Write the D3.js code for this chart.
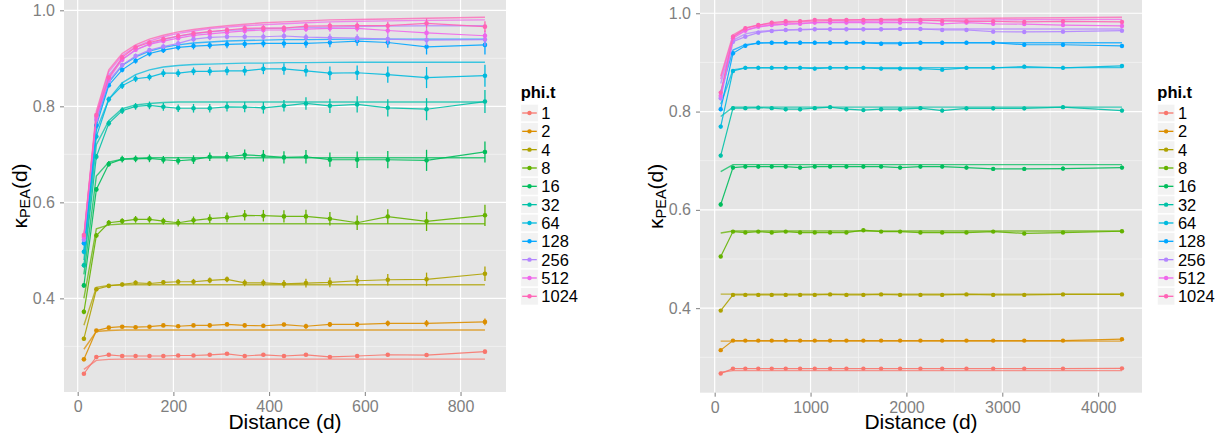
<!DOCTYPE html>
<html>
<head>
<meta charset="utf-8">
<script src="https://cdn.jsdelivr.net/npm/d3@7"></script>
<style>
  body { margin: 0; background: #fff; }
  svg text { font-family: "Liberation Sans", Arial, sans-serif; }
</style>
</head>
<body>
<div id="chart"></div>
<script>
// ---- data ----
const phiLevels = ["1", "2", "4", "8", "16", "32", "64", "128", "256", "512", "1024"];
const phiColors = ["#F8766D", "#DB8E00", "#AEA200", "#64B200", "#00BD5C", "#00C1A7",
                   "#00BADE", "#00A6FF", "#B385FF", "#EF67EB", "#FF63B6"];

const yTicks = [0.4, 0.6, 0.8, 1.0];
const yMinor = [0.3, 0.5, 0.7, 0.9];

// left panel: short distances
const leftDist = [13, 39, 65, 93, 121, 150, 179, 210, 242, 276, 312, 349, 388, 431, 477, 527, 584, 648, 729, 851];
const leftXTicks = [0, 200, 400, 600, 800];
const leftXMinor = [100, 300, 500, 700];

const leftObserved = [
  [0.243, 0.278, 0.2825, 0.280, 0.280, 0.280, 0.280, 0.281, 0.281, 0.2825, 0.2846, 0.280, 0.2825, 0.280, 0.2825, 0.278, 0.280, 0.2826, 0.282, 0.289],
  [0.273, 0.333, 0.339, 0.341, 0.340, 0.341, 0.3437, 0.342, 0.3437, 0.3437, 0.3458, 0.3437, 0.343, 0.3455, 0.342, 0.3458, 0.3458, 0.348, 0.348, 0.351],
  [0.316, 0.419, 0.426, 0.429, 0.4325, 0.431, 0.4335, 0.4346, 0.4346, 0.4375, 0.4396, 0.4325, 0.4325, 0.4304, 0.4319, 0.4333, 0.4367, 0.4388, 0.4396, 0.4513],
  [0.372, 0.531, 0.5575, 0.561, 0.5646, 0.5646, 0.561, 0.5575, 0.5625, 0.566, 0.5687, 0.573, 0.5722, 0.5708, 0.5708, 0.566, 0.5575, 0.5704, 0.5604, 0.573],
  [0.427, 0.627, 0.680, 0.690, 0.6906, 0.6917, 0.6888, 0.6867, 0.689, 0.695, 0.695, 0.699, 0.697, 0.6937, 0.695, 0.689, 0.6888, 0.6888, 0.6875, 0.705],
  [0.469, 0.695, 0.7646, 0.791, 0.800, 0.802, 0.799, 0.796, 0.796, 0.796, 0.799, 0.7985, 0.797, 0.801, 0.806, 0.801, 0.804, 0.797, 0.794, 0.810],
  [0.497, 0.737, 0.8146, 0.843, 0.8575, 0.861, 0.869, 0.869, 0.873, 0.873, 0.874, 0.874, 0.878, 0.878, 0.874, 0.869, 0.870, 0.866, 0.860, 0.8638],
  [0.515, 0.760, 0.844, 0.876, 0.895, 0.910, 0.917, 0.923, 0.9256, 0.927, 0.929, 0.930, 0.931, 0.931, 0.931, 0.933, 0.936, 0.933, 0.924, 0.928],
  [0.522, 0.772, 0.853, 0.886, 0.905, 0.917, 0.9245, 0.931, 0.940, 0.9437, 0.945, 0.945, 0.945, 0.9465, 0.944, 0.943, 0.942, 0.940, 0.938, 0.939],
  [0.528, 0.778, 0.857, 0.897, 0.918, 0.929, 0.936, 0.942, 0.948, 0.951, 0.954, 0.957, 0.959, 0.959, 0.961, 0.9625, 0.9625, 0.958, 0.953, 0.947],
  [0.532, 0.782, 0.860, 0.902, 0.923, 0.933, 0.940, 0.9465, 0.952, 0.9555, 0.959, 0.9625, 0.963, 0.963, 0.967, 0.9677, 0.968, 0.968, 0.973, 0.966]
];

// half-length of the error bars
const leftError = [
  [0.002, 0.002, 0.002, 0.002, 0.002, 0.002, 0.002, 0.002, 0.002, 0.002, 0.002, 0.002, 0.003, 0.003, 0.003, 0.003, 0.003, 0.003, 0.003, 0.004],
  [0.003, 0.003, 0.003, 0.003, 0.003, 0.003, 0.003, 0.003, 0.003, 0.004, 0.004, 0.004, 0.004, 0.004, 0.005, 0.005, 0.005, 0.006, 0.007, 0.007],
  [0.004, 0.004, 0.004, 0.004, 0.005, 0.005, 0.005, 0.005, 0.006, 0.006, 0.006, 0.007, 0.007, 0.008, 0.009, 0.010, 0.011, 0.012, 0.014, 0.015],
  [0.005, 0.005, 0.006, 0.006, 0.007, 0.007, 0.007, 0.008, 0.008, 0.009, 0.010, 0.011, 0.012, 0.013, 0.014, 0.014, 0.015, 0.015, 0.020, 0.022],
  [0.005, 0.005, 0.006, 0.007, 0.007, 0.008, 0.008, 0.008, 0.009, 0.009, 0.010, 0.011, 0.012, 0.013, 0.014, 0.015, 0.017, 0.018, 0.022, 0.022],
  [0.005, 0.006, 0.006, 0.007, 0.007, 0.008, 0.008, 0.008, 0.009, 0.009, 0.010, 0.011, 0.012, 0.012, 0.013, 0.015, 0.017, 0.018, 0.023, 0.024],
  [0.005, 0.006, 0.006, 0.007, 0.007, 0.007, 0.008, 0.008, 0.008, 0.009, 0.009, 0.010, 0.011, 0.012, 0.012, 0.014, 0.015, 0.017, 0.022, 0.023],
  [0.004, 0.005, 0.005, 0.005, 0.006, 0.006, 0.006, 0.006, 0.007, 0.007, 0.008, 0.008, 0.008, 0.009, 0.009, 0.010, 0.010, 0.011, 0.016, 0.020],
  [0.004, 0.004, 0.004, 0.005, 0.005, 0.005, 0.005, 0.005, 0.006, 0.006, 0.006, 0.006, 0.007, 0.007, 0.007, 0.008, 0.008, 0.010, 0.011, 0.013],
  [0.003, 0.004, 0.004, 0.004, 0.004, 0.004, 0.005, 0.005, 0.005, 0.005, 0.005, 0.006, 0.006, 0.006, 0.006, 0.007, 0.007, 0.008, 0.010, 0.011],
  [0.003, 0.004, 0.004, 0.004, 0.004, 0.004, 0.005, 0.005, 0.005, 0.005, 0.005, 0.006, 0.006, 0.006, 0.006, 0.007, 0.007, 0.008, 0.010, 0.011]
];

// expected curves, same distances
const leftTheory = [
  [0.252, 0.271, 0.273, 0.2735, 0.2735, 0.2735, 0.2735, 0.2735, 0.2735, 0.2735, 0.2735, 0.2735, 0.2735, 0.2735, 0.2735, 0.2735, 0.2735, 0.2735, 0.2735, 0.2735],
  [0.294, 0.331, 0.333, 0.334, 0.334, 0.334, 0.334, 0.334, 0.334, 0.334, 0.334, 0.334, 0.334, 0.334, 0.334, 0.334, 0.334, 0.334, 0.334, 0.334],
  [0.344, 0.423, 0.427, 0.428, 0.4284, 0.4284, 0.4284, 0.4284, 0.4284, 0.4284, 0.4284, 0.4284, 0.4284, 0.4284, 0.4284, 0.4284, 0.4284, 0.4284, 0.4284, 0.4284],
  [0.400, 0.545, 0.553, 0.555, 0.5555, 0.5555, 0.5555, 0.5555, 0.5555, 0.5555, 0.5555, 0.5555, 0.5555, 0.5555, 0.5555, 0.5555, 0.5555, 0.5555, 0.5555, 0.5555],
  [0.450, 0.655, 0.684, 0.690, 0.692, 0.693, 0.693, 0.693, 0.693, 0.693, 0.693, 0.693, 0.693, 0.693, 0.693, 0.693, 0.693, 0.693, 0.693, 0.693],
  [0.480, 0.720, 0.770, 0.795, 0.803, 0.806, 0.808, 0.809, 0.809, 0.809, 0.809, 0.809, 0.809, 0.809, 0.809, 0.809, 0.809, 0.809, 0.809, 0.809],
  [0.500, 0.750, 0.815, 0.849, 0.866, 0.876, 0.882, 0.885, 0.887, 0.888, 0.889, 0.890, 0.890, 0.891, 0.891, 0.8915, 0.8917, 0.8917, 0.8917, 0.8917],
  [0.510, 0.770, 0.850, 0.885, 0.903, 0.915, 0.923, 0.928, 0.932, 0.934, 0.936, 0.937, 0.938, 0.939, 0.939, 0.9395, 0.940, 0.940, 0.940, 0.940],
  [0.520, 0.780, 0.865, 0.898, 0.917, 0.930, 0.939, 0.946, 0.951, 0.955, 0.958, 0.960, 0.962, 0.963, 0.964, 0.965, 0.966, 0.967, 0.968, 0.968],
  [0.525, 0.785, 0.872, 0.906, 0.924, 0.936, 0.945, 0.952, 0.957, 0.962, 0.965, 0.968, 0.970, 0.972, 0.974, 0.976, 0.977, 0.978, 0.979, 0.980],
  [0.530, 0.790, 0.876, 0.910, 0.928, 0.940, 0.948, 0.955, 0.960, 0.9645, 0.968, 0.971, 0.974, 0.976, 0.978, 0.980, 0.981, 0.982, 0.9835, 0.9855]
];

// right panel: long distances
const rightDist = [63, 191, 320, 455, 595, 741, 891, 1044, 1204, 1374, 1551, 1736, 1934, 2146, 2373, 2626, 2905, 3229, 3633, 4248];
const rightXTicks = [0, 1000, 2000, 3000, 4000];
const rightXMinor = [500, 1500, 2500, 3500];

const rightObserved = [
  [0.267, 0.277, 0.277, 0.277, 0.277, 0.277, 0.277, 0.277, 0.277, 0.277, 0.277, 0.277, 0.277, 0.277, 0.277, 0.277, 0.277, 0.277, 0.277, 0.2775],
  [0.3146, 0.334, 0.334, 0.334, 0.334, 0.334, 0.334, 0.334, 0.334, 0.334, 0.334, 0.334, 0.334, 0.334, 0.334, 0.334, 0.334, 0.334, 0.334, 0.337],
  [0.395, 0.427, 0.427, 0.427, 0.427, 0.427, 0.427, 0.427, 0.428, 0.427, 0.427, 0.428, 0.427, 0.427, 0.427, 0.428, 0.427, 0.427, 0.428, 0.428],
  [0.505, 0.5558, 0.5538, 0.5558, 0.5538, 0.5558, 0.5538, 0.5538, 0.5538, 0.5538, 0.5586, 0.5558, 0.5558, 0.5538, 0.5538, 0.5538, 0.5558, 0.552, 0.5538, 0.5565],
  [0.6108, 0.686, 0.688, 0.688, 0.688, 0.688, 0.686, 0.688, 0.688, 0.688, 0.688, 0.688, 0.686, 0.688, 0.688, 0.686, 0.6834, 0.6834, 0.684, 0.686],
  [0.7104, 0.807, 0.807, 0.808, 0.807, 0.8048, 0.8048, 0.807, 0.809, 0.8048, 0.803, 0.8048, 0.8048, 0.807, 0.802, 0.8065, 0.8065, 0.8065, 0.809, 0.802],
  [0.7694, 0.8826, 0.889, 0.889, 0.889, 0.889, 0.889, 0.8874, 0.889, 0.889, 0.889, 0.8874, 0.8874, 0.8874, 0.8853, 0.889, 0.889, 0.8914, 0.889, 0.8928],
  [0.8048, 0.9186, 0.934, 0.940, 0.940, 0.940, 0.940, 0.940, 0.940, 0.940, 0.940, 0.938, 0.938, 0.940, 0.940, 0.940, 0.940, 0.936, 0.936, 0.9335],
  [0.827, 0.942, 0.9524, 0.9606, 0.964, 0.966, 0.9665, 0.9674, 0.9674, 0.9674, 0.9674, 0.9674, 0.968, 0.968, 0.966, 0.966, 0.9626, 0.962, 0.9626, 0.9646],
  [0.832, 0.949, 0.9646, 0.9728, 0.976, 0.978, 0.9785, 0.981, 0.981, 0.981, 0.981, 0.981, 0.981, 0.981, 0.9785, 0.981, 0.9785, 0.978, 0.976, 0.9742],
  [0.8386, 0.9524, 0.9695, 0.976, 0.981, 0.9837, 0.984, 0.9864, 0.9864, 0.9864, 0.9864, 0.9864, 0.9864, 0.9864, 0.9844, 0.9837, 0.9837, 0.9823, 0.9837, 0.9823]
];

// error half-length per series (right panel bars are tiny)
const rightError = [0.002, 0.002, 0.003, 0.003, 0.004, 0.004, 0.004, 0.004, 0.004, 0.004, 0.004];

const rightTheory = [
  [0.2695, 0.273, 0.273, 0.273, 0.273, 0.273, 0.273, 0.273, 0.273, 0.273, 0.273, 0.273, 0.273, 0.273, 0.273, 0.273, 0.273, 0.273, 0.273, 0.273],
  [0.333, 0.333, 0.333, 0.333, 0.333, 0.333, 0.333, 0.333, 0.333, 0.333, 0.333, 0.333, 0.333, 0.333, 0.333, 0.333, 0.333, 0.333, 0.333, 0.333],
  [0.4285, 0.4285, 0.4285, 0.4285, 0.4285, 0.4285, 0.4285, 0.4285, 0.4285, 0.4285, 0.4285, 0.4285, 0.4285, 0.4285, 0.4285, 0.4285, 0.4285, 0.4285, 0.4285, 0.4285],
  [0.553, 0.557, 0.557, 0.557, 0.557, 0.557, 0.557, 0.557, 0.557, 0.557, 0.557, 0.557, 0.557, 0.557, 0.557, 0.557, 0.557, 0.557, 0.557, 0.557],
  [0.678, 0.692, 0.692, 0.692, 0.692, 0.692, 0.692, 0.692, 0.692, 0.692, 0.692, 0.692, 0.692, 0.692, 0.692, 0.692, 0.692, 0.692, 0.692, 0.692],
  [0.790, 0.809, 0.809, 0.809, 0.809, 0.809, 0.809, 0.809, 0.809, 0.809, 0.809, 0.809, 0.809, 0.809, 0.809, 0.809, 0.809, 0.809, 0.809, 0.809],
  [0.815, 0.885, 0.889, 0.8895, 0.8895, 0.8895, 0.8895, 0.8895, 0.8895, 0.8895, 0.8895, 0.8895, 0.8895, 0.8895, 0.8895, 0.8895, 0.8895, 0.8895, 0.8895, 0.8895],
  [0.840, 0.925, 0.936, 0.939, 0.940, 0.940, 0.940, 0.940, 0.940, 0.940, 0.940, 0.940, 0.940, 0.940, 0.940, 0.940, 0.940, 0.940, 0.940, 0.940],
  [0.857, 0.945, 0.958, 0.963, 0.965, 0.966, 0.967, 0.9675, 0.968, 0.968, 0.968, 0.968, 0.968, 0.968, 0.968, 0.968, 0.968, 0.968, 0.968, 0.968],
  [0.866, 0.952, 0.966, 0.972, 0.976, 0.978, 0.980, 0.981, 0.982, 0.983, 0.9835, 0.984, 0.9845, 0.985, 0.9855, 0.986, 0.9865, 0.987, 0.987, 0.9875],
  [0.872, 0.956, 0.970, 0.976, 0.979, 0.981, 0.983, 0.984, 0.985, 0.986, 0.987, 0.9875, 0.988, 0.9885, 0.989, 0.9895, 0.990, 0.9905, 0.991, 0.992]
];

// ---- layout ----
const width = 1225;
const height = 443;

const svg = d3.select("#chart").append("svg")
    .attr("width", width)
    .attr("height", height);

function drawPanel(p) {
    const x = d3.scaleLinear().domain(p.xDomain).range([p.left, p.right]);
    const y = d3.scaleLinear().domain(p.yDomain).range([p.bottom, p.top]);
    const g = svg.append("g");

    // panel background + grid (old ggplot grey theme)
    g.append("rect")
        .attr("x", p.left).attr("y", p.top)
        .attr("width", p.right - p.left).attr("height", p.bottom - p.top)
        .attr("fill", "#E5E5E5");

    g.selectAll(".minor-x").data(p.xMinor).join("line")
        .attr("x1", d => x(d)).attr("x2", d => x(d))
        .attr("y1", p.top).attr("y2", p.bottom)
        .attr("stroke", "#F2F2F2").attr("stroke-width", 0.8);
    g.selectAll(".minor-y").data(yMinor).join("line")
        .attr("y1", d => y(d)).attr("y2", d => y(d))
        .attr("x1", p.left).attr("x2", p.right)
        .attr("stroke", "#F2F2F2").attr("stroke-width", 0.8);
    g.selectAll(".major-x").data(p.xTicks).join("line")
        .attr("x1", d => x(d)).attr("x2", d => x(d))
        .attr("y1", p.top).attr("y2", p.bottom)
        .attr("stroke", "#fff").attr("stroke-width", 1.2);
    g.selectAll(".major-y").data(yTicks).join("line")
        .attr("y1", d => y(d)).attr("y2", d => y(d))
        .attr("x1", p.left).attr("x2", p.right)
        .attr("stroke", "#fff").attr("stroke-width", 1.2);

    const line = d3.line()
        .x((d, i) => x(p.dist[i]))
        .y(d => y(d));

    // expected curves first, then observed
    p.theory.forEach((s, k) => {
        g.append("path")
            .attr("d", line(s))
            .attr("fill", "none")
            .attr("stroke", phiColors[k])
            .attr("stroke-width", 1.4)
            .attr("stroke-opacity", 0.75);
    });

    p.observed.forEach((s, k) => {
        const col = phiColors[k];
        g.append("path")
            .attr("d", line(s))
            .attr("fill", "none")
            .attr("stroke", col)
            .attr("stroke-width", 1.2)
            .attr("stroke-opacity", 0.9);

        const pts = s.map((v, i) => ({ d: p.dist[i], v, e: p.error(k, i) }));

        g.selectAll(null).data(pts).join("line")
            .attr("x1", d => x(d.d)).attr("x2", d => x(d.d))
            .attr("y1", d => y(d.v - d.e)).attr("y2", d => y(d.v + d.e))
            .attr("stroke", col)
            .attr("stroke-width", 1.3);

        g.selectAll(null).data(pts).join("circle")
            .attr("cx", d => x(d.d))
            .attr("cy", d => y(d.v))
            .attr("r", p.pointR)
            .attr("fill", col);
    });

    // axes
    const yAxis = g.append("g")
        .attr("transform", `translate(${p.left},0)`)
        .call(d3.axisLeft(y).tickValues(yTicks).tickFormat(d3.format(".1f")).tickSize(4).tickPadding(5));
    const xAxis = g.append("g")
        .attr("transform", `translate(0,${p.bottom})`)
        .call(d3.axisBottom(x).tickValues(p.xTicks).tickFormat(d3.format("d")).tickSize(4).tickPadding(5));

    [xAxis, yAxis].forEach(a => {
        a.select(".domain").remove();
        a.selectAll(".tick line").attr("stroke", "#7F7F7F");
        a.selectAll(".tick text")
            .attr("fill", "#7F7F7F")
            .attr("font-size", "16px")
            .attr("font-family", "Liberation Sans, Arial, sans-serif");
    });

    // axis titles
    g.append("text")
        .attr("x", (p.left + p.right) / 2)
        .attr("y", 429)
        .attr("text-anchor", "middle")
        .attr("font-size", "21px")
        .attr("fill", "#000")
        .text("Distance (d)");

    const ty = (p.top + p.bottom) / 2;
    const yt = g.append("text")
        .attr("transform", `translate(${p.left - 37},${ty}) rotate(-90)`)
        .attr("text-anchor", "middle")
        .attr("font-size", "21px")
        .attr("fill", "#000");
    yt.append("tspan").text("κ");
    yt.append("tspan").attr("font-size", "14.5px").attr("dy", 3).text("PEA");
    yt.append("tspan").attr("dy", -3).text("(d)");

    // legend
    const lg = g.append("g");
    lg.append("text")
        .attr("x", p.legendX)
        .attr("y", 98)
        .attr("font-size", "16.5px")
        .attr("font-weight", "bold")
        .text("phi.t");

    const step = 18.33;
    const key = 17.6;
    phiLevels.forEach((lab, k) => {
        const cy = 113 + k * step;
        lg.append("rect")
            .attr("x", p.legendX).attr("y", cy - key / 2)
            .attr("width", key).attr("height", key)
            .attr("fill", "#F2F2F2")
            .attr("stroke", "#fff").attr("stroke-width", 0.8);
        lg.append("line")
            .attr("x1", p.legendX + 1.5).attr("x2", p.legendX + key - 1.5)
            .attr("y1", cy).attr("y2", cy)
            .attr("stroke", phiColors[k]).attr("stroke-width", 1.3);
        lg.append("circle")
            .attr("cx", p.legendX + key / 2).attr("cy", cy)
            .attr("r", 2.2)
            .attr("fill", phiColors[k]);
        lg.append("text")
            .attr("x", p.legendX + key + 3)
            .attr("y", cy)
            .attr("dy", "0.36em")
            .attr("font-size", "16.5px")
            .attr("fill", "#000")
            .text(lab);
    });
}

drawPanel({
    left: 64, right: 506, top: 0, bottom: 392,
    xDomain: [-28.6, 895], yDomain: [0.205, 1.0215],
    xTicks: leftXTicks, xMinor: leftXMinor,
    dist: leftDist, observed: leftObserved, theory: leftTheory,
    error: (k, i) => leftError[k][i],
    pointR: 2.3,
    legendX: 520.7
});

drawPanel({
    left: 700, right: 1142, top: 0, bottom: 392.7,
    xDomain: [-153, 4457], yDomain: [0.228, 1.027],
    xTicks: rightXTicks, xMinor: rightXMinor,
    dist: rightDist, observed: rightObserved, theory: rightTheory,
    error: (k, i) => rightError[k],
    pointR: 2.2,
    legendX: 1157.3
});
</script>
</body>
</html>
